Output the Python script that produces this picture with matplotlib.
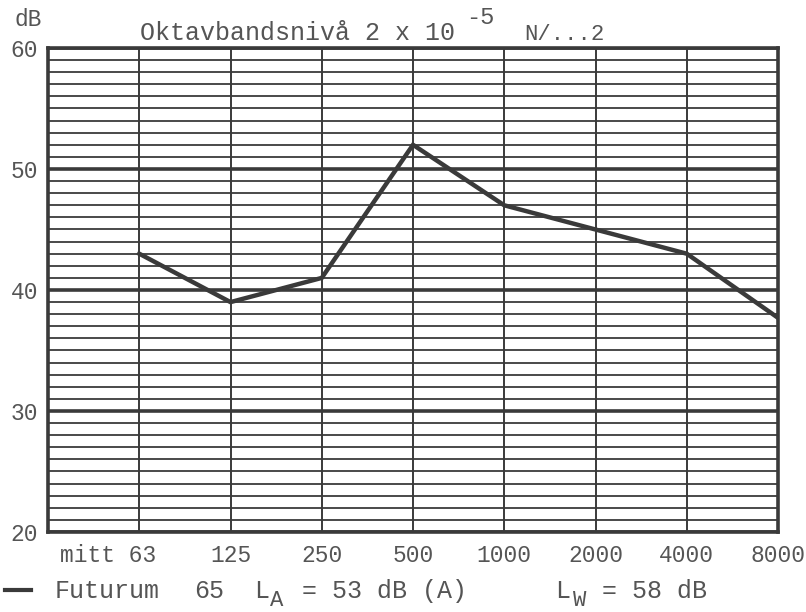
import matplotlib
matplotlib.use("Agg")
import matplotlib.pyplot as plt
import matplotlib.transforms as mtransforms

# octave band centre frequencies and measured levels (dB)
bands = ["63", "125", "250", "500", "1000", "2000", "4000", "8000"]
levels = [43, 39, 41, 52, 47, 45, 43, 37.7]
y_major = [20, 30, 40, 50, 60]

INK = "#3a3a3a"
TXT = "#555555"
FONT = "Liberation Mono"

fig = plt.figure(figsize=(8.06, 6.12), dpi=100)
ax = fig.add_axes([48 / 806, 1 - 532 / 612, 730 / 806, 484 / 612])

x = list(range(len(bands)))
ax.plot(x, levels, color=INK, lw=3.2, solid_joinstyle="miter", zorder=5)

ax.set_xlim(-1, len(bands) - 1)
ax.set_ylim(20, 60)

# grid: 1 dB thin lines, heavier every 10 dB
ax.set_yticks(y_major)
ax.set_yticks(range(20, 61), minor=True)
ax.set_xticks(x)
ax.grid(True, which="major", axis="y", color=INK, lw=2.6)
ax.grid(True, which="minor", axis="y", color=INK, lw=1.3)
ax.grid(True, which="major", axis="x", color=INK, lw=1.4)
ax.tick_params(which="both", length=0)
for s in ax.spines.values():
    s.set_color(INK)
    s.set_linewidth(2.6)

ax.set_yticklabels([str(v) for v in y_major], fontfamily=FONT, fontsize=16.5, color=TXT)
ax.tick_params(axis="y", pad=7)

labels = list(bands)
labels[0] = "mitt 63"
ax.set_xticklabels(labels, fontfamily=FONT, fontsize=16.5, color=TXT)
ax.tick_params(axis="x", pad=9)
first = ax.get_xticklabels()[0]
first.set_ha("right")
first.set_transform(first.get_transform() + mtransforms.ScaledTranslation(17 / 100, 0, fig.dpi_scale_trans))

fig.text(14 / 806, 1 - 20 / 612, "dB", fontfamily=FONT, fontsize=16.5, color=TXT, va="center")
fig.text(140 / 806, 1 - 40 / 612, "Oktavbandsnivå 2 x 10", fontfamily=FONT, fontsize=18,
         color=TXT, va="baseline")
fig.text(466 / 806, 1 - 24 / 612, "-5", fontfamily=FONT, fontsize=17, color=TXT, va="baseline")
fig.text(524 / 806, 1 - 40 / 612, "N/...2", fontfamily=FONT, fontsize=16, color=TXT, va="baseline")

# footer / legend line
fy = 1 - 598 / 612
fsub = 1 - 606 / 612
fig.lines.append(plt.Line2D([5 / 806, 31 / 806], [1 - 590 / 612] * 2, color=INK, lw=3,
                            transform=fig.transFigure))
fig.text(55 / 806, fy, "Futurum", fontfamily=FONT, fontsize=18, color=TXT, va="baseline")
fig.text(194 / 806, fy, "65", fontfamily=FONT, fontsize=18, color=TXT, va="baseline")
fig.text(254 / 806, fy, "L", fontfamily=FONT, fontsize=18, color=TXT, va="baseline")
fig.text(270 / 806, fsub, "A", fontfamily=FONT, fontsize=16, color=TXT, va="baseline")
fig.text(302 / 806, fy, "= 53 dB (A)", fontfamily=FONT, fontsize=18, color=TXT, va="baseline")
fig.text(555 / 806, fy, "L", fontfamily=FONT, fontsize=18, color=TXT, va="baseline")
fig.text(573 / 806, 1 - 612 / 612 + 0.002, "W", fontfamily=FONT, fontsize=16, color=TXT, va="bottom")
fig.text(602 / 806, fy, "= 58 dB", fontfamily=FONT, fontsize=18, color=TXT, va="baseline")

fig.savefig("out.png", dpi=100)
